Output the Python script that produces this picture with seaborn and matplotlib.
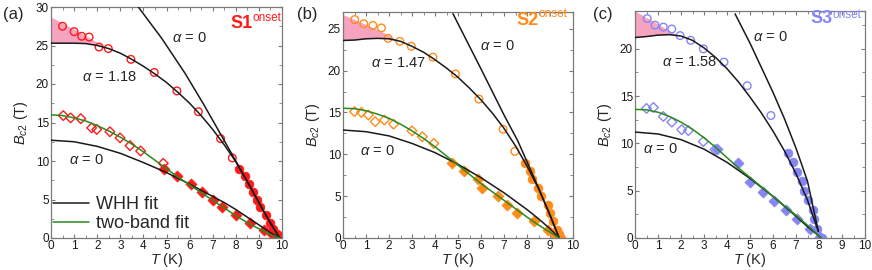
"""Upper critical field B_c2(T) for three samples, WHH and two-band fits."""
import matplotlib
matplotlib.use("Agg")
import matplotlib.pyplot as plt
from matplotlib.lines import Line2D
from matplotlib.ticker import MultipleLocator
import pandas as pd
import seaborn as sns

sns.set_theme(style="ticks")
plt.rcParams["font.family"] = ["Liberation Sans", "DejaVu Sans"]
plt.rcParams["mathtext.fontset"] = "custom"
plt.rcParams["mathtext.rm"] = "Liberation Sans"
plt.rcParams["mathtext.it"] = "Liberation Sans:italic"
plt.rcParams["mathtext.bf"] = "Liberation Sans:bold"

# ---------------- panel (a) : S1 ----------------
a_oc_T = [0.5, 1.0, 1.33, 1.65, 2.08, 2.48, 3.46, 4.47, 5.45, 6.38, 7.34, 7.85]
a_oc_B = [27.5, 26.8, 26.2, 26.1, 24.8, 24.6, 23.2, 21.5, 19.1, 16.4, 12.9, 10.4]
a_fc_T = [8.15, 8.4, 8.58, 8.76, 8.9, 9.05, 9.3, 9.5, 9.62, 9.78, 9.9]
a_fc_B = [8.9, 8.0, 7.0, 6.0, 5.0, 4.0, 3.0, 2.0, 1.2, 0.5, 0.1]
a_od_T = [0.53, 0.85, 1.29, 1.76, 1.98, 2.55, 2.99, 3.42, 3.88, 4.86]
a_od_B = [15.9, 15.6, 15.5, 14.3, 14.1, 13.8, 13.0, 12.0, 11.3, 9.7]
a_fd_T = [4.9, 5.45, 6.05, 6.55, 7.0, 7.42, 8.02, 8.63, 9.24, 9.55, 9.85]
a_fd_B = [9.0, 8.0, 7.0, 6.0, 5.0, 4.0, 3.0, 2.0, 1.0, 0.55, 0.15]
a_orb_T = [3.78, 4.8, 5.8, 6.6, 7.32, 8.0, 8.6, 9.2, 9.9]
a_orb_B = [30.0, 25.9, 21.4, 17.4, 13.6, 10.0, 6.8, 3.5, 0.0]
a_pauli_T = [0, 1, 1.5, 2, 2.5, 3, 3.5, 4, 4.5, 5, 5.5, 6, 6.5, 7, 7.5, 8, 8.5, 9, 9.5, 9.9]
a_pauli_B = [25.3, 25.3, 25.25, 25.0, 24.6, 24.0, 23.2, 22.3, 21.3, 20.2, 18.9,
             17.5, 15.9, 14.1, 12.1, 9.9, 7.3, 4.6, 1.9, 0.0]
a_whh_T = [0, 1, 2, 3, 4, 5, 6, 6.5, 7, 7.5, 8, 8.5, 9, 9.5, 9.9]
a_whh_B = [12.7, 12.5, 11.9, 11.0, 9.8, 8.5, 7.0, 6.2, 5.4, 4.6, 3.7, 2.7, 1.7, 0.7, 0.0]
a_two_T = [0, 0.5, 1, 1.5, 2, 2.5, 3, 3.5, 4, 4.5, 5, 5.5, 6, 6.5, 7, 7.5, 8, 8.5, 9, 9.5, 9.9]
a_two_B = [16.0, 15.9, 15.6, 15.2, 14.6, 13.9, 13.1, 12.2, 11.2, 10.1, 9.0, 7.9,
           6.9, 5.9, 4.9, 3.9, 2.9, 2.0, 1.2, 0.45, 0.0]
a_fill_T = [0, 0.5, 1.0, 1.5, 2.0, 2.3]
a_fill_top = [28.7, 27.9, 27.1, 26.3, 25.4, 24.9]
a_fill_bot = [25.3, 25.3, 25.3, 25.25, 25.0, 24.8]

# ---------------- panel (b) : S2 ----------------
b_oc_T = [0.51, 0.9, 1.3, 1.67, 1.96, 2.47, 2.97, 3.91, 4.89, 5.91, 6.96, 7.47]
b_oc_B = [26.1, 25.6, 25.4, 25.1, 23.85, 23.5, 22.9, 21.6, 19.6, 16.6, 13.0, 10.35]
b_fc_T = [7.9, 8.12, 8.23, 8.48, 8.62, 8.91, 8.99, 9.13, 9.3, 9.38, 9.45]
b_fc_B = [9.0, 8.0, 7.0, 6.0, 5.0, 4.0, 3.0, 2.0, 1.0, 0.5, 0.1]
b_od_T = [0.5, 0.8, 1.1, 1.4, 1.8, 2.2, 3.0, 3.45, 3.95]
b_od_B = [15.1, 15.0, 14.7, 13.9, 14.1, 13.6, 12.8, 12.1, 11.3]
b_fd_T = [4.75, 5.25, 5.85, 6.05, 6.75, 7.15, 7.55, 8.3, 8.9, 9.2, 9.45]
b_fd_B = [9.0, 8.0, 7.0, 6.0, 5.0, 4.0, 3.0, 2.0, 1.0, 0.4, 0.1]
b_orb_T = [4.78, 6.0, 7.0, 7.6, 8.5, 9.4]
b_orb_B = [26.8, 20.2, 14.7, 11.6, 6.0, 0.0]
b_pauli_T = [0, 0.5, 1, 1.5, 2, 2.5, 3, 3.5, 4, 4.5, 5, 5.5, 6, 6.5, 7, 7.5, 8, 8.5, 9, 9.4]
b_pauli_B = [23.6, 23.65, 23.8, 23.85, 23.8, 23.5, 22.9, 22.2, 21.3, 20.3, 19.2,
             17.9, 16.5, 14.9, 13.1, 11.0, 8.6, 5.9, 2.8, 0.0]
b_whh_T = [0, 1, 2, 3, 4, 5, 6, 7, 8, 8.5, 9, 9.4]
b_whh_B = [12.9, 12.7, 12.2, 11.3, 10.2, 8.8, 7.2, 5.4, 3.4, 2.3, 1.1, 0.0]
b_two_T = [0, 0.5, 1, 1.5, 2, 2.5, 3, 3.5, 4, 4.5, 5, 5.5, 6, 6.5, 7, 7.5, 8, 8.5, 9, 9.4]
b_two_B = [15.5, 15.45, 15.2, 14.8, 14.3, 13.6, 12.8, 11.9, 10.9, 9.8, 8.7, 7.6,
           6.5, 5.5, 4.5, 3.5, 2.5, 1.55, 0.7, 0.0]
b_fill_T = [0, 0.5, 1.0, 1.5, 2.0, 2.4]
b_fill_top = [26.7, 26.1, 25.5, 24.9, 24.2, 23.6]
b_fill_bot = [23.6, 23.65, 23.8, 23.85, 23.8, 23.55]

# ---------------- panel (c) : S3 ----------------
c_oc_T = [0.53, 0.87, 1.23, 1.6, 1.96, 2.42, 2.97, 3.87, 4.88, 5.91]
c_oc_B = [23.2, 22.5, 22.3, 22.1, 21.4, 20.9, 20.0, 18.6, 16.1, 12.95]
c_fc_T = [6.67, 6.88, 7.06, 7.25, 7.36, 7.54, 7.75, 7.8, 7.9, 8.12]
c_fc_B = [9.0, 8.0, 7.0, 6.0, 5.0, 4.0, 3.0, 2.0, 1.0, 0.0]
c_od_T = [0.5, 0.8, 1.23, 1.6, 2.03, 2.32, 2.97, 3.48]
c_od_B = [13.7, 13.8, 12.85, 12.25, 11.45, 11.35, 10.2, 9.35]
c_fd_T = [3.58, 4.49, 5.0, 5.55, 6.06, 6.57, 7.03, 7.6, 8.04]
c_fd_B = [9.4, 7.9, 5.9, 4.9, 3.9, 3.0, 2.0, 1.0, 0.1]
c_orb_T = [4.35, 5.0, 6.0, 6.5, 7.0, 7.5, 7.97]
c_orb_B = [23.7, 20.6, 15.4, 12.6, 9.5, 6.0, 0.7]
c_pauli_T = [0, 0.5, 1, 1.5, 2, 2.5, 3, 3.5, 4, 4.5, 5, 5.5, 6, 6.5, 7, 7.5, 7.97]
c_pauli_B = [21.2, 21.3, 21.45, 21.5, 21.35, 20.9, 20.1, 19.1, 17.9, 16.5, 14.9,
             13.2, 11.3, 9.2, 6.8, 4.0, 0.7]
c_whh_T = [0, 1, 2, 3, 4, 5, 6, 7, 7.5, 8.1]
c_whh_B = [11.2, 11.0, 10.4, 9.4, 8.0, 6.3, 4.4, 2.3, 1.2, 0.0]
c_two_T = [0, 0.5, 1, 1.5, 2, 2.5, 3, 3.5, 4, 4.5, 5, 5.5, 6, 6.5, 7, 7.5, 8.1]
c_two_B = [13.6, 13.55, 13.3, 12.85, 12.25, 11.5, 10.6, 9.6, 8.5, 7.4, 6.4, 5.4,
           4.4, 3.4, 2.4, 1.35, 0.0]
c_fill_T = [0, 0.5, 1.0, 1.5, 1.9]
c_fill_top = [24.0, 23.3, 22.6, 21.9, 21.4]
c_fill_bot = [21.2, 21.3, 21.45, 21.5, 21.4]

panels = [
    dict(name="(a)", sample="S1", color="#ff1a1a", ymax=30, alpha="1.18",
         oc=(a_oc_T, a_oc_B), fc=(a_fc_T, a_fc_B), od=(a_od_T, a_od_B), fd=(a_fd_T, a_fd_B),
         orb=(a_orb_T, a_orb_B), pauli=(a_pauli_T, a_pauli_B), whh=(a_whh_T, a_whh_B),
         two=(a_two_T, a_two_B), fill=(a_fill_T, a_fill_top, a_fill_bot),
         pos=[51, 7, 282, 238], lab_x=3, sample_xy=(0.874, 0.909, 0.941),
         alpha_xy=(1.35, 20.9), orb_xy=(5.25, 26.0), whh_xy=(0.8, 10.1)),
    dict(name="(b)", sample="S2", color="#ff8c1a", ymax=27, alpha="1.47",
         oc=(b_oc_T, b_oc_B), fc=(b_fc_T, b_fc_B), od=(b_od_T, b_od_B), fd=(b_fd_T, b_fd_B),
         orb=(b_orb_T, b_orb_B), pauli=(b_pauli_T, b_pauli_B), whh=(b_whh_T, b_whh_B),
         two=(b_two_T, b_two_B), fill=(b_fill_T, b_fill_top, b_fill_bot),
         pos=[343, 12, 573, 238], lab_x=297, sample_xy=(0.849, 0.942, 0.979),
         alpha_xy=(1.23, 20.85), orb_xy=(5.94, 22.9), whh_xy=(0.72, 10.4)),
    dict(name="(c)", sample="S3", color="#8585f5", ymax=24, alpha="1.58",
         oc=(c_oc_T, c_oc_B), fc=(c_fc_T, c_fc_B), od=(c_od_T, c_od_B), fd=(c_fd_T, c_fd_B),
         orb=(c_orb_T, c_orb_B), pauli=(c_pauli_T, c_pauli_B), whh=(c_whh_T, c_whh_B),
         two=(c_two_T, c_two_B), fill=(c_fill_T, c_fill_top, c_fill_bot),
         pos=[635, 11, 865, 238], lab_x=593, sample_xy=(0.857, 0.947, 0.969),
         alpha_xy=(1.16, 18.6), orb_xy=(5.13, 21.3), whh_xy=(0.35, 9.4)),
]

W, H = 872, 270
fig = plt.figure(figsize=(W / 100, H / 100), dpi=100)

pink = "#f6a3bf"
green = "#2a8a1e"
spine_c = "#7a7a7a"

for p in panels:
    x0, y0, x1, y1 = p["pos"]
    ax = fig.add_axes([x0 / W, 1 - y1 / H, (x1 - x0) / W, (y1 - y0) / H])
    c = p["color"]

    ft, ftop, fbot = p["fill"]
    ax.fill_between(ft, fbot, ftop, color=pink, lw=0, zorder=1)

    # measured points
    sns.scatterplot(x=p["oc"][0], y=p["oc"][1], ax=ax, marker="o", s=30,
                    color=c, facecolor="none", edgecolor=c, linewidth=1.0, zorder=2)
    sns.scatterplot(x=p["od"][0], y=p["od"][1], ax=ax, marker="D", s=24,
                    color=c, facecolor="none", edgecolor=c, linewidth=1.0, zorder=2)
    sns.scatterplot(x=p["fc"][0], y=p["fc"][1], ax=ax, marker="o", s=40,
                    color=c, edgecolor=c, linewidth=0.5, zorder=2)
    sns.scatterplot(x=p["fd"][0], y=p["fd"][1], ax=ax, marker="D", s=32,
                    color=c, edgecolor=c, linewidth=0.5, zorder=2)

    # fits
    for key, lc in [("orb", "k"), ("pauli", "k"), ("whh", "k"), ("two", green)]:
        df = pd.DataFrame({"T": p[key][0], "B": p[key][1]})
        sns.lineplot(data=df, x="T", y="B", ax=ax, sort=False, estimator=None,
                     color=lc, lw=1.1, zorder=3)

    ax.set_xlim(0, 10)
    ax.set_ylim(0, p["ymax"])
    ax.xaxis.set_major_locator(MultipleLocator(1))
    ax.xaxis.set_minor_locator(MultipleLocator(0.5))
    ax.yaxis.set_major_locator(MultipleLocator(5))
    ax.yaxis.set_minor_locator(MultipleLocator(2.5))
    ax.tick_params(which="both", direction="in", top=True, right=True,
                   color=spine_c, labelsize=8.5, labelcolor="#1a1a1a")
    ax.tick_params(which="major", length=3, width=0.8, pad=1.5)
    ax.tick_params(which="minor", length=2, width=0.6)
    for s in ax.spines.values():
        s.set_color(spine_c)
        s.set_linewidth(0.9)

    ax.set_xlabel(r"$T$ (K)", fontsize=10.5)
    ax.xaxis.set_label_coords(0.5, -0.058)
    ax.set_ylabel(r"$B_{c2}$ (T)", fontsize=10.5, labelpad=4)

    # annotations
    tx, ty, oy = p["sample_xy"]
    ax.text(tx, ty, p["sample"], transform=ax.transAxes, ha="right", va="baseline",
            fontsize=13, fontweight="bold", color=c)
    ax.text(tx, oy, "onset", transform=ax.transAxes, ha="left", va="baseline",
            fontsize=8.5, color=c)
    ax.text(*p["alpha_xy"], r"$\alpha$ = " + p["alpha"], ha="left", va="center", fontsize=10.5)
    ax.text(*p["orb_xy"], r"$\alpha$ = 0", ha="left", va="center", fontsize=10.5)
    ax.text(*p["whh_xy"], r"$\alpha$ = 0", ha="left", va="center", fontsize=10.5)

    fig.text(p["lab_x"] / W, 1 - 7 / H, p["name"], ha="left", va="top", fontsize=12)

    if p["name"] == "(a)":
        handles = [Line2D([], [], color="k", lw=1.1), Line2D([], [], color=green, lw=1.1)]
        ax.legend(handles, ["WHH fit", "two-band fit"], loc="lower left",
                  bbox_to_anchor=(-0.005, 0.015), frameon=False, fontsize=13,
                  handlelength=2.0, handletextpad=0.4, labelspacing=0.1,
                  borderpad=0.15, borderaxespad=0.0)

fig.savefig("out.png", dpi=100)
